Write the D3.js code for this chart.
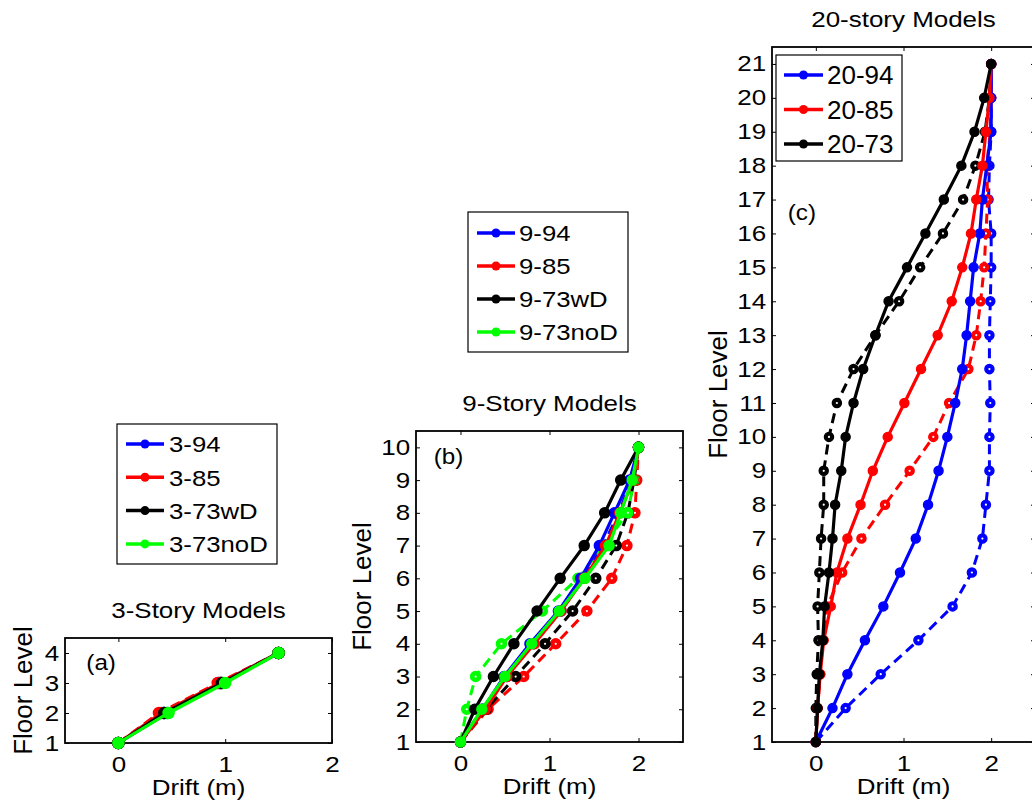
<!DOCTYPE html>
<html>
<head>
<meta charset="utf-8">
<script src="https://cdn.jsdelivr.net/npm/d3@7"></script>
<style>
  body { margin: 0; background: #fff; }
  svg { display: block; }
  text { font-family: "Liberation Sans", Arial, sans-serif; fill: #000; }
</style>
</head>
<body>
<svg id="chart" width="1032" height="805"></svg>
<script>
// floor levels
const floors3 = [1, 2, 3, 4];
const floors9 = [1, 2, 3, 4, 5, 6, 7, 8, 9, 10];
const floors20 = [1, 2, 3, 4, 5, 6, 7, 8, 9, 10, 11, 12, 13, 14, 15, 16, 17, 18, 19, 20, 21];

// tick labels
const xTicks = [0, 1, 2];
const yTicks3 = [1, 2, 3, 4];
const yTicks9 = [1, 2, 3, 4, 5, 6, 7, 8, 9, 10];
const yTicks20 = [1, 2, 3, 4, 5, 6, 7, 8, 9, 10, 11, 12, 13, 14, 15, 16, 17, 18, 19, 20, 21];

// 3-story drift (m), solid / dashed
const s3_94 = [0, 0.46, 0.96, 1.5];
const s3_94d = [0, 0.43, 0.94, 1.5];
const s3_85 = [0, 0.40, 0.95, 1.5];
const s3_85d = [0, 0.38, 0.93, 1.5];
const s3_73wD = [0, 0.43, 0.97, 1.5];
const s3_73wDd = [0, 0.42, 0.96, 1.5];
const s3_73noD = [0, 0.47, 1.0, 1.5];
const s3_73noDd = [0, 0.45, 0.98, 1.5];

// 9-story drift (m)
const s9_94 = [0, 0.25, 0.49, 0.78, 1.10, 1.35, 1.56, 1.73, 1.90, 2.0];
const s9_94d = [0, 0.24, 0.52, 0.82, 1.13, 1.38, 1.60, 1.78, 1.92, 2.0];
const s9_85 = [0, 0.28, 0.52, 0.83, 1.13, 1.39, 1.63, 1.79, 1.94, 2.0];
const s9_85d = [0, 0.31, 0.71, 1.07, 1.42, 1.70, 1.87, 1.96, 1.98, 2.0];
const s9_73wD = [0, 0.16, 0.37, 0.60, 0.86, 1.12, 1.39, 1.62, 1.80, 2.0];
const s9_73wDd = [0, 0.29, 0.62, 0.95, 1.26, 1.52, 1.75, 1.88, 1.95, 2.0];
const s9_73noD = [0, 0.24, 0.50, 0.80, 1.11, 1.40, 1.67, 1.80, 1.93, 2.0];
const s9_73noDd = [0, 0.07, 0.17, 0.46, 0.92, 1.32, 1.61, 1.88, 1.95, 2.0];

// 20-story drift (m)
const s20_94 = [0, 0.19, 0.36, 0.56, 0.77, 0.96, 1.14, 1.28, 1.40, 1.50, 1.59, 1.67, 1.72, 1.76, 1.80, 1.87, 1.90, 1.95, 2.0, 2.0, 2.0];
const s20_94d = [0, 0.34, 0.74, 1.17, 1.56, 1.78, 1.90, 1.94, 1.98, 1.98, 1.99, 1.98, 1.98, 1.99, 2.0, 2.0, 1.97, 1.98, 2.0, 2.0, 2.0];
const s20_85 = [0, 0.02, 0.05, 0.09, 0.17, 0.24, 0.36, 0.51, 0.65, 0.82, 1.01, 1.20, 1.39, 1.55, 1.67, 1.77, 1.83, 1.90, 1.94, 1.98, 2.0];
const s20_85d = [0, 0.02, 0.05, 0.08, 0.13, 0.30, 0.52, 0.79, 1.07, 1.34, 1.52, 1.74, 1.83, 1.88, 1.92, 1.94, 1.96, 1.95, 1.99, 2.0, 2.0];
const s20_73 = [0, 0.02, 0.04, 0.08, 0.10, 0.15, 0.19, 0.22, 0.29, 0.34, 0.43, 0.54, 0.68, 0.83, 1.04, 1.25, 1.46, 1.66, 1.81, 1.92, 2.0];
const s20_73d = [0, 0.0, 0.01, 0.03, 0.02, 0.04, 0.06, 0.09, 0.09, 0.15, 0.24, 0.43, 0.68, 0.95, 1.19, 1.45, 1.68, 1.82, 1.93, 1.98, 2.0];

const names3 = ["3-94", "3-85", "3-73wD", "3-73noD"];
const names9 = ["9-94", "9-85", "9-73wD", "9-73noD"];
const names20 = ["20-94", "20-85", "20-73"];
const colors = ["#0000ff", "#ff0000", "#000000", "#00ff00"];

const titles = ["3-Story Models", "9-Story Models", "20-story Models"];
const tags = ["(a)", "(b)", "(c)"];

const panels = [
  {
    title: titles[0], tag: tags[0], tagPos: [-0.3, 3.45],
    floors: floors3, yTicks: yTicks3, yDom: [1, 4.5], xDom: [-0.5, 2],
    box: { l: 65, r: 332, t: 638, b: 743 }, ylabX: 32, mr: 5.5,
    solid: [s3_94, s3_85, s3_73wD, s3_73noD],
    dashed: [s3_94d, s3_85d, s3_73wDd, s3_73noDd],
    names: names3,
    leg: { x: 117, y: 424, w: 160, h: 140, y0: 444, dy: 33.3, lx0: 9, lx1: 47, tx: 52, size: 23, sx: 1.12 }
  },
  {
    title: titles[1], tag: tags[1], tagPos: [-0.3, 9.5],
    floors: floors9, yTicks: yTicks9, yDom: [1, 10.5], xDom: [-0.5, 2.5],
    box: { l: 416, r: 683, t: 431, b: 742 }, ylabX: 371, mr: 5,
    solid: [s9_94, s9_85, s9_73wD, s9_73noD],
    dashed: [s9_94d, s9_85d, s9_73wDd, s9_73noDd],
    names: names9,
    leg: { x: 468, y: 212, w: 160, h: 140, y0: 233, dy: 33, lx0: 9, lx1: 47, tx: 51, size: 23, sx: 1.12 }
  },
  {
    title: titles[2], tag: tags[2], tagPos: [-0.32, 16.4],
    floors: floors20, yTicks: yTicks20, yDom: [1, 21.5], xDom: [-0.5, 2.5],
    box: { l: 772, r: 1035, t: 47, b: 742 }, ylabX: 727, mr: 4.5,
    solid: [s20_94, s20_85, s20_73],
    dashed: [s20_94d, s20_85d, s20_73d],
    names: names20,
    leg: { x: 776, y: 55, w: 126, h: 106, y0: 75, dy: 34.5, lx0: 8, lx1: 47, tx: 51, size: 26, sx: 1.0 }
  }
];

const svg = d3.select("#chart");
const TXT = 22, SX = 1.18;
const fmt = d3.format("d");

function hText(g, x, y, str, size, sx, anchor) {
  return g.append("text")
    .attr("transform", `translate(${x},${y}) scale(${sx},1)`)
    .attr("text-anchor", anchor)
    .style("font-size", size + "px")
    .text(str);
}

function drawPanel(p) {
  const g = svg.append("g");
  const x = d3.scaleLinear().domain(p.xDom).range([p.box.l, p.box.r]);
  const y = d3.scaleLinear().domain(p.yDom).range([p.box.b, p.box.t]);

  // ticks (inside) on all four sides
  const bottom = g.append("g").attr("transform", `translate(0,${p.box.b})`)
    .call(d3.axisBottom(x).tickValues(xTicks).tickFormat(fmt).tickSizeInner(-4).tickSizeOuter(0).tickPadding(13));
  const left = g.append("g").attr("transform", `translate(${p.box.l},0)`)
    .call(d3.axisLeft(y).tickValues(p.yTicks).tickFormat(fmt).tickSizeInner(-4).tickSizeOuter(0).tickPadding(5));
  g.append("g").attr("transform", `translate(0,${p.box.t})`)
    .call(d3.axisTop(x).tickValues(xTicks).tickSizeInner(-4).tickSizeOuter(0).tickFormat(""));
  g.append("g").attr("transform", `translate(${p.box.r},0)`)
    .call(d3.axisRight(y).tickValues(p.yTicks).tickSizeInner(-4).tickSizeOuter(0).tickFormat(""));
  g.selectAll(".domain").remove();
  g.selectAll(".tick line").attr("stroke", "#000").attr("stroke-width", 1);
  bottom.selectAll("text").style("font-size", TXT + "px").attr("transform", `scale(${SX},1)`);
  left.selectAll("text").style("font-size", TXT + "px").attr("transform", `scale(${SX},1)`);
  g.selectAll(".tick text").attr("fill", "#000").style("font-family", "'Liberation Sans', Arial, sans-serif");

  g.append("rect")
    .attr("x", p.box.l).attr("y", p.box.t)
    .attr("width", p.box.r - p.box.l).attr("height", p.box.b - p.box.t)
    .attr("fill", "none").attr("stroke", "#000").attr("stroke-width", 1.8);

  const line = d3.line().x(d => x(d[0])).y(d => y(d[1]));
  const zip = arr => arr.map((v, i) => [v, p.floors[i]]);

  // dashed series underneath, solid on top
  p.dashed.forEach((arr, i) => {
    g.append("path").attr("d", line(zip(arr)))
      .attr("fill", "none").attr("stroke", colors[i]).attr("stroke-width", 3)
      .attr("stroke-dasharray", "10,6");
    g.selectAll(null).data(zip(arr)).join("circle")
      .attr("cx", d => x(d[0])).attr("cy", d => y(d[1])).attr("r", p.mr)
      .attr("fill", colors[i]).attr("stroke", colors[i]).attr("stroke-width", 1.5);
    g.selectAll(null).data(zip(arr)).join("circle")
      .attr("cx", d => x(d[0])).attr("cy", d => y(d[1])).attr("r", 1.1)
      .attr("fill", "#fff");
  });
  p.solid.forEach((arr, i) => {
    g.append("path").attr("d", line(zip(arr)))
      .attr("fill", "none").attr("stroke", colors[i]).attr("stroke-width", 3.2);
    g.selectAll(null).data(zip(arr)).join("circle")
      .attr("cx", d => x(d[0])).attr("cy", d => y(d[1])).attr("r", p.mr)
      .attr("fill", colors[i]).attr("stroke", colors[i]).attr("stroke-width", 1.5);
  });

  // texts
  hText(g, (p.box.l + p.box.r) / 2, p.box.t - 20, p.title, TXT, SX, "middle");
  hText(g, (p.box.l + p.box.r) / 2, p.box.b + 52, "Drift (m)", TXT, SX, "middle");
  hText(g, x(p.tagPos[0]), y(p.tagPos[1]), p.tag, TXT, 1.1, "start");
  g.append("text")
    .attr("transform", `translate(${p.ylabX},${(p.box.t + p.box.b) / 2}) rotate(-90)`)
    .attr("text-anchor", "middle").style("font-size", "26px")
    .text("Floor Level");

  // legend
  const L = p.leg;
  const lg = svg.append("g").attr("transform", `translate(${L.x},${L.y})`);
  lg.append("rect").attr("width", L.w).attr("height", L.h)
    .attr("fill", "#fff").attr("stroke", "#000").attr("stroke-width", 1.2);
  p.names.forEach((n, i) => {
    const yy = L.y0 - L.y + i * L.dy;
    lg.append("line").attr("x1", L.lx0).attr("x2", L.lx1).attr("y1", yy).attr("y2", yy)
      .attr("stroke", colors[i]).attr("stroke-width", 3.5);
    lg.append("circle").attr("cx", (L.lx0 + L.lx1) / 2).attr("cy", yy).attr("r", 4.5)
      .attr("fill", colors[i]);
    hText(lg, L.tx, yy + L.size * 0.36, n, L.size, L.sx, "start");
  });
}

panels.forEach(drawPanel);
</script>
</body>
</html>
